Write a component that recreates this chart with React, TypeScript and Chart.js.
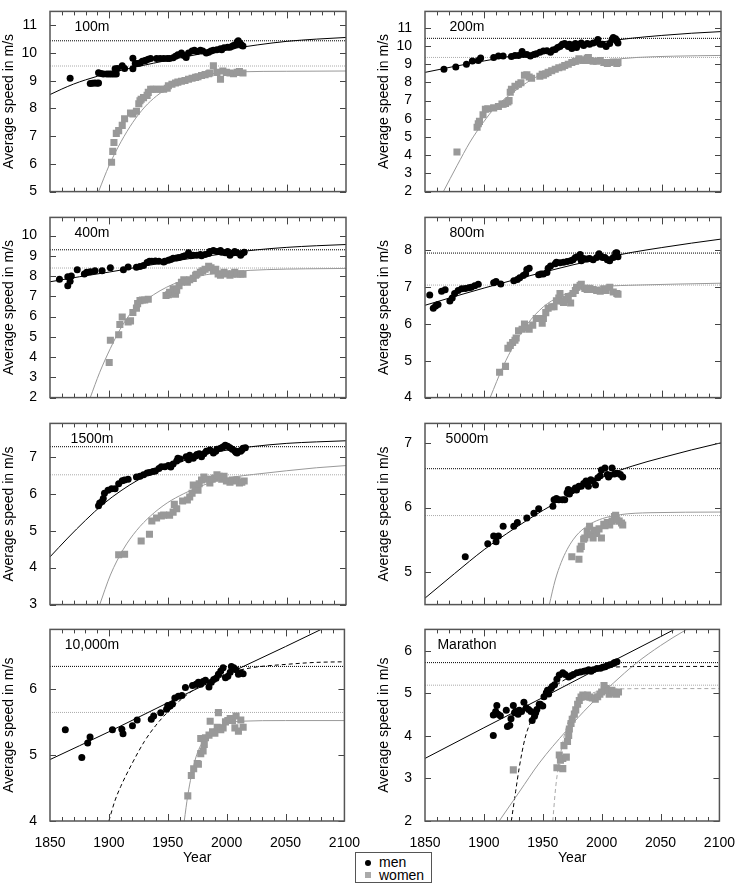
import React, { useEffect, useRef } from 'react';
import { Chart, registerables } from 'chart.js';
Chart.register(...registerables);

type P = [number, number];
const FONT = "'Liberation Sans', Arial, Helvetica, sans-serif";

// ---------- 100m ----------
const men100: P[] = [[1867,9.09],[1884,8.9],[1886,8.91],[1888,8.92],[1890,8.91],[1891,8.92],[1891,9.29],[1893,9.26],[1895,9.24],[1898,9.24],[1900,9.24],[1902,9.24],[1904,9.24],[1906,9.24],[1905,9.43],[1907,9.44],[1911,9.54],[1913,9.44],[1920,9.43],[1920,9.81],[1922,9.62],[1924,9.62],[1926,9.64],[1928,9.7],[1930,9.72],[1931,9.74],[1933,9.77],[1935,9.8],[1940,9.8],[1943,9.8],[1946,9.8],[1949,9.8],[1951,9.8],[1954,9.83],[1956,9.88],[1958,9.94],[1961,10.0],[1963,9.91],[1965,9.84],[1967,10.0],[1970,10.07],[1972,10.1],[1974,10.05],[1977,10.1],[1979,10.07],[1982,10.0],[1984,10.03],[1986,10.07],[1988,10.1],[1991,10.12],[1994,10.15],[1995,10.12],[1997,10.19],[2000,10.21],[2002,10.21],[2004,10.24],[2005,10.27],[2007,10.3],[2008,10.4],[2009,10.44],[2010,10.36],[2011,10.32],[2012,10.27],[2013,10.25]];
const women100: P[] = [[1902,6.06],[1903,6.45],[1904,6.77],[1906,7.1],[1908,7.2],[1911,7.39],[1913,7.63],[1918,7.83],[1920,7.8],[1923,7.9],[1925,8.17],[1926,8.28],[1927,8.33],[1929,8.39],[1932,8.47],[1933,8.58],[1935,8.69],[1937,8.69],[1940,8.69],[1943,8.69],[1946,8.69],[1949,8.73],[1950,8.82],[1953,8.87],[1956,8.92],[1958,8.95],[1961,8.98],[1964,9.01],[1967,9.05],[1970,9.09],[1973,9.12],[1975,9.14],[1978,9.19],[1981,9.22],[1984,9.25],[1985,9.28],[1988,9.54],[1991,9.3],[1994,9.05],[1996,9.35],[1999,9.3],[2002,9.28],[2005,9.25],[2008,9.3],[2010,9.33],[2013,9.28]];
const menFit100: P[] = [[1850,8.5],[1860,8.7],[1870,8.88],[1880,9.03],[1890,9.16],[1900,9.27],[1925,9.52],[1950,9.74],[1975,9.95],[2000,10.13],[2025,10.29],[2050,10.42],[2075,10.5],[2100,10.56]];
const womenFit100: P[] = [[1891,5.0],[1900,5.95],[1910,6.8],[1920,7.5],[1930,8.05],[1940,8.45],[1950,8.75],[1960,8.97],[1975,9.17],[1990,9.27],[2010,9.32],[2050,9.34],[2100,9.35]];
const records100: P = [10.44, 9.53];

// ---------- 200m ----------
const men200: P[] = [[1866,8.72],[1876,8.85],[1885,9.0],[1890,9.17],[1895,9.2],[1897,9.34],[1908,9.37],[1912,9.45],[1916,9.45],[1923,9.42],[1926,9.48],[1929,9.48],[1932,9.7],[1933,9.53],[1936,9.53],[1939,9.45],[1942,9.53],[1944,9.58],[1947,9.65],[1950,9.73],[1953,9.74],[1956,9.66],[1958,9.78],[1960,9.81],[1962,9.91],[1964,9.97],[1966,10.1],[1968,10.14],[1971,9.97],[1972,10.1],[1974,9.86],[1975,10.05],[1977,10.14],[1978,9.91],[1980,10.1],[1982,10.17],[1984,10.02],[1987,10.14],[1989,10.1],[1992,10.17],[1995,10.22],[1996,10.35],[1998,10.1],[2000,10.1],[2003,9.97],[2006,10.14],[2008,10.35],[2009,10.46],[2011,10.4],[2012,10.27],[2013,10.17]];
const women200: P[] = [[1877,4.18],[1894,5.54],[1895,5.73],[1896,5.86],[1899,6.22],[1901,6.52],[1903,6.55],[1908,6.6],[1912,6.68],[1915,6.81],[1916,6.8],[1918,6.84],[1920,6.92],[1921,7.0],[1922,7.46],[1923,7.62],[1926,7.79],[1929,7.9],[1931,7.98],[1934,8.39],[1936,8.42],[1938,8.3],[1940,8.23],[1947,8.34],[1949,8.44],[1950,8.39],[1952,8.47],[1954,8.55],[1957,8.64],[1960,8.72],[1963,8.8],[1966,8.85],[1968,8.93],[1971,9.0],[1974,9.09],[1977,9.16],[1980,9.29],[1982,9.24],[1985,9.2],[1987,9.32],[1988,9.37],[1989,9.2],[1992,9.16],[1995,9.16],[1998,9.2],[2001,9.09],[2004,9.04],[2006,9.09],[2009,9.12],[2012,9.04],[2013,9.09]];
const menFit200: P[] = [[1850,8.55],[1875,8.88],[1900,9.18],[1925,9.47],[1950,9.74],[1975,10.0],[2000,10.23],[2025,10.43],[2050,10.58],[2075,10.7],[2100,10.79]];
const womenFit200: P[] = [[1865.5,2.0],[1877,3.42],[1888,4.72],[1899,5.78],[1910,6.68],[1922,7.33],[1933,7.86],[1944,8.3],[1958,8.64],[1972,8.91],[1986,9.09],[2000,9.2],[2029,9.37],[2060,9.44],[2100,9.48]];
const records200: P = [10.42, 9.37];

// ---------- 400m ----------
const men400: P[] = [[1858,7.85],[1865,7.97],[1865,7.53],[1867,7.75],[1868,8.0],[1873,8.31],[1879,8.11],[1881,8.19],[1884,8.22],[1888,8.26],[1894,8.26],[1901,8.41],[1912,8.31],[1916,8.45],[1923,8.44],[1926,8.48],[1929,8.53],[1932,8.67],[1934,8.73],[1936,8.73],[1939,8.75],[1942,8.73],[1946,8.7],[1947,8.73],[1950,8.78],[1952,8.82],[1954,8.88],[1957,8.9],[1959,8.92],[1962,8.97],[1964,9.0],[1967,9.15],[1969,9.0],[1971,9.03],[1974,9.03],[1977,9.07],[1978,9.0],[1981,9.07],[1984,9.12],[1985,9.22],[1988,9.26],[1991,9.22],[1994,9.26],[1995,9.18],[1998,9.15],[2000,9.22],[2002,9.03],[2005,9.15],[2006,9.22],[2008,9.15],[2011,9.03],[2012,9.12],[2014,9.18]];
const women400: P[] = [[1900,3.73],[1901,4.83],[1908,5.1],[1909,5.61],[1911,5.98],[1916,5.73],[1918,5.79],[1920,6.2],[1923,6.42],[1924,6.64],[1926,6.79],[1928,6.82],[1930,6.82],[1933,6.86],[1948,7.04],[1950,7.08],[1951,7.2],[1954,7.38],[1956,7.11],[1957,7.3],[1959,7.53],[1961,7.7],[1963,7.82],[1966,7.7],[1968,7.82],[1971,7.89],[1973,8.04],[1974,8.09],[1977,8.19],[1979,8.26],[1981,8.34],[1984,8.48],[1986,8.41],[1988,8.26],[1990,8.34],[1992,8.11],[1994,8.04],[1997,8.19],[1999,8.11],[2002,8.04],[2004,8.11],[2006,8.19],[2008,8.09],[2011,8.11],[2013,8.09]];
const menFit400: P[] = [[1850,7.72],[1875,7.97],[1900,8.2],[1925,8.45],[1950,8.7],[1975,8.93],[2000,9.13],[2025,9.3],[2050,9.42],[2075,9.5],[2100,9.56]];
const womenFit400: P[] = [[1884,2.0],[1892,3.25],[1901,4.43],[1909,5.35],[1920,6.3],[1932,6.86],[1943,7.28],[1954,7.6],[1966,7.85],[1982,8.07],[2005,8.23],[2033,8.32],[2066,8.36],[2100,8.38]];
const records400: P = [9.30, 8.40];

// ---------- 800m ----------
const men800: P[] = [[1854,6.79],[1857,6.43],[1859,6.49],[1861,6.53],[1864,6.89],[1867,6.93],[1871,6.63],[1873,6.71],[1875,6.83],[1878,6.91],[1881,6.96],[1884,6.97],[1887,6.99],[1889,7.0],[1892,7.04],[1895,7.08],[1908,7.12],[1910,7.16],[1914,7.09],[1925,7.18],[1928,7.21],[1930,7.26],[1933,7.32],[1935,7.36],[1936,7.48],[1938,7.52],[1946,7.34],[1948,7.36],[1950,7.36],[1953,7.4],[1954,7.52],[1956,7.58],[1960,7.64],[1961,7.68],[1964,7.67],[1967,7.68],[1970,7.7],[1973,7.72],[1975,7.75],[1977,7.81],[1979,7.83],[1981,7.89],[1982,7.72],[1984,7.78],[1987,7.77],[1989,7.78],[1992,7.75],[1995,7.81],[1997,7.91],[1998,7.86],[2000,7.81],[2002,7.81],[2004,7.75],[2006,7.72],[2009,7.81],[2011,7.93],[2012,7.94],[2013,7.83]];
const women800: P[] = [[1913,4.69],[1918,4.85],[1920,5.34],[1922,5.42],[1924,5.5],[1926,5.56],[1927,5.62],[1929,5.82],[1932,5.86],[1934,6.0],[1936,5.9],[1938,5.86],[1941,5.97],[1944,6.15],[1946,6.15],[1949,6.02],[1950,6.15],[1952,6.31],[1954,6.43],[1957,6.47],[1959,6.47],[1961,6.63],[1963,6.71],[1964,6.83],[1966,6.63],[1967,6.59],[1969,6.67],[1971,6.75],[1973,6.57],[1975,6.83],[1977,6.91],[1978,7.0],[1981,7.05],[1982,7.08],[1985,6.97],[1987,6.94],[1989,6.97],[1992,6.94],[1995,6.91],[1998,6.89],[2001,6.96],[2003,6.91],[2006,7.0],[2009,6.87],[2012,6.83],[2013,6.81]];
const menFit800: P[] = [[1850,6.51],[1875,6.75],[1900,6.98],[1925,7.2],[1950,7.41],[1975,7.61],[2000,7.79],[2025,7.95],[2050,8.08],[2075,8.2],[2100,8.31]];
const womenFit800: P[] = [[1905,4.0],[1916,4.85],[1925,5.42],[1936,5.98],[1950,6.47],[1964,6.75],[1978,6.91],[2001,7.02],[2029,7.06],[2100,7.11]];
const records800: P = [7.93, 7.06];

// ---------- 1500m ----------
const men1500: P[] = [[1891,5.67],[1892,5.75],[1894,5.79],[1895,5.87],[1896,6.01],[1899,6.09],[1902,6.13],[1905,6.13],[1908,6.27],[1911,6.35],[1913,6.37],[1916,6.39],[1923,6.45],[1926,6.47],[1929,6.51],[1932,6.56],[1934,6.57],[1937,6.6],[1939,6.61],[1942,6.68],[1944,6.73],[1947,6.73],[1950,6.76],[1952,6.72],[1954,6.8],[1957,6.88],[1958,6.96],[1960,6.94],[1965,7.0],[1967,6.92],[1968,7.04],[1971,6.96],[1973,7.02],[1974,7.06],[1976,7.08],[1978,7.0],[1980,7.08],[1982,7.15],[1985,7.18],[1988,7.1],[1990,7.15],[1991,7.2],[1994,7.23],[1996,7.26],[1998,7.31],[2000,7.28],[2002,7.24],[2004,7.2],[2006,7.16],[2007,7.12],[2008,7.1],[2011,7.15],[2012,7.18],[2013,7.23],[2015,7.24]];
const women1500: P[] = [[1908,4.35],[1913,4.36],[1927,4.72],[1934,4.9],[1936,5.26],[1940,5.34],[1944,5.4],[1946,5.42],[1951,5.42],[1954,5.5],[1955,5.71],[1957,5.59],[1962,5.8],[1966,5.83],[1968,5.91],[1970,6.01],[1971,6.23],[1973,6.15],[1975,6.09],[1976,6.27],[1978,6.37],[1980,6.45],[1982,6.39],[1985,6.29],[1987,6.39],[1989,6.42],[1991,6.51],[1993,6.47],[1995,6.39],[1997,6.47],[1999,6.34],[2002,6.31],[2004,6.37],[2006,6.34],[2008,6.37],[2010,6.29],[2012,6.31],[2014,6.34]];
const menFit1500: P[] = [[1850,4.29],[1865,4.8],[1880,5.28],[1895,5.72],[1910,6.08],[1925,6.38],[1940,6.6],[1955,6.8],[1970,6.96],[1985,7.09],[2000,7.18],[2020,7.27],[2050,7.36],[2075,7.4],[2100,7.43]];
const womenFit1500: P[] = [[1892,3.0],[1901,3.8],[1912,4.5],[1923,5.0],[1935,5.4],[1949,5.75],[1963,6.0],[1977,6.2],[1991,6.35],[2005,6.45],[2022,6.52],[2050,6.62],[2075,6.7],[2100,6.76]];
const records1500: P = [7.27, 6.51];

// ---------- 5000m ----------
const men5000: P[] = [[1884,5.24],[1903,5.44],[1908,5.56],[1910,5.47],[1912,5.56],[1916,5.71],[1925,5.71],[1928,5.77],[1936,5.84],[1942,5.91],[1946,5.98],[1958,6.02],[1959,6.12],[1961,6.14],[1963,6.12],[1966,6.12],[1968,6.12],[1970,6.23],[1971,6.28],[1972,6.21],[1974,6.26],[1977,6.3],[1978,6.27],[1980,6.33],[1982,6.33],[1984,6.37],[1986,6.41],[1988,6.33],[1990,6.43],[1992,6.41],[1994,6.35],[1996,6.46],[1998,6.49],[1999,6.58],[2002,6.61],[2004,6.51],[2005,6.47],[2006,6.5],[2008,6.61],[2010,6.52],[2012,6.53],[2015,6.51],[2017,6.47]];
const women5000: P[] = [[1974,5.24],[1980,5.2],[1981,5.36],[1982,5.4],[1984,5.51],[1985,5.53],[1987,5.63],[1989,5.71],[1990,5.58],[1992,5.53],[1993,5.65],[1995,5.6],[1997,5.67],[1999,5.53],[2001,5.74],[2002,5.72],[2004,5.77],[2006,5.73],[2008,5.79],[2010,5.86],[2011,5.88],[2012,5.81],[2014,5.79],[2016,5.76],[2017,5.73]];
const menFit5000: P[] = [[1850,4.6],[1875,4.98],[1900,5.35],[1925,5.67],[1950,5.96],[1975,6.22],[2000,6.47],[2025,6.64],[2050,6.77],[2075,6.89],[2100,7.0]];
const womenFit5000: P[] = [[1955,4.5],[1960,4.88],[1965,5.15],[1970,5.35],[1975,5.5],[1980,5.61],[1990,5.75],[2000,5.83],[2015,5.89],[2040,5.92],[2100,5.93]];
const records5000: P = [6.60, 5.876];

// ---------- 10,000m ----------
const men10000: P[] = [[1863,5.38],[1877,4.96],[1882,5.18],[1884,5.27],[1903,5.38],[1911,5.39],[1912,5.32],[1920,5.44],[1924,5.53],[1936,5.54],[1938,5.59],[1944,5.64],[1949,5.69],[1950,5.75],[1952,5.74],[1954,5.77],[1956,5.86],[1959,5.89],[1962,5.9],[1965,6.02],[1971,6.05],[1974,6.07],[1976,6.1],[1978,6.07],[1980,6.11],[1982,6.13],[1985,6.03],[1987,6.1],[1989,6.14],[1991,6.16],[1993,6.22],[1995,6.27],[1997,6.32],[1999,6.17],[2001,6.19],[2003,6.25],[2004,6.34],[2006,6.32],[2008,6.29],[2010,6.22],[2012,6.24],[2014,6.23]];
const women10000: P[] = [[1967,4.38],[1970,4.69],[1972,4.79],[1975,4.87],[1976,4.86],[1978,5.02],[1980,5.06],[1981,5.16],[1978,5.25],[1982,5.26],[1985,5.3],[1986,5.51],[1988,5.35],[1990,5.33],[1992,5.42],[1993,5.64],[1995,5.38],[1997,5.41],[1999,5.5],[2001,5.52],[2003,5.55],[2005,5.52],[2007,5.41],[2008,5.59],[2010,5.36],[2012,5.53],[2014,5.42]];
const menFit10000: P[] = [[1850,4.93],[1900,5.35],[1950,5.79],[2000,6.22],[2050,6.64],[2100,7.07]];
const menDash10000: P[] = [[1900,4.0],[1905,4.3],[1910,4.52],[1920,4.88],[1930,5.2],[1940,5.45],[1950,5.65],[1960,5.82],[1970,5.96],[1980,6.07],[1990,6.16],[2000,6.23],[2010,6.28],[2025,6.33],[2050,6.37],[2075,6.4],[2100,6.41]];
const womenFit10000: P[] = [[1964,4.0],[1967,4.39],[1970,4.68],[1974,4.97],[1980,5.21],[1988,5.38],[1999,5.47],[2011,5.51],[2050,5.52],[2100,5.52]];
const records10000: P = [6.34, 5.643];

// ---------- Marathon ----------
const menMar: P[] = [[1908,4.01],[1908,4.49],[1910,4.57],[1911,4.71],[1912,4.51],[1914,4.47],[1919,4.6],[1920,4.22],[1922,4.25],[1923,4.4],[1925,4.71],[1926,4.54],[1927,4.57],[1929,4.51],[1930,4.6],[1932,4.57],[1934,4.79],[1936,4.66],[1938,4.62],[1940,4.57],[1941,4.36],[1943,4.46],[1944,4.54],[1945,4.62],[1947,4.74],[1948,4.74],[1950,4.7],[1951,4.92],[1953,5.01],[1954,5.07],[1955,4.98],[1957,5.11],[1958,5.16],[1960,5.2],[1962,5.33],[1964,5.43],[1967,5.48],[1969,5.44],[1972,5.38],[1974,5.41],[1976,5.44],[1979,5.48],[1982,5.5],[1985,5.52],[1987,5.53],[1989,5.55],[1991,5.52],[1993,5.55],[1996,5.58],[1999,5.59],[2001,5.61],[2003,5.62],[2005,5.65],[2007,5.67],[2010,5.7],[2011,5.72],[2013,5.74]];
const womenMar: P[] = [[1925,3.2],[1962,3.25],[1964,3.55],[1965,3.43],[1967,3.47],[1967,3.23],[1968,3.77],[1970,3.5],[1971,3.87],[1972,4.01],[1972.6,4.16],[1974,4.29],[1975,4.39],[1976.8,4.51],[1978,4.61],[1979.6,4.74],[1981,4.83],[1982.5,4.91],[1984,4.96],[1986,4.92],[1988,4.96],[1990,4.91],[1992,4.89],[1994.6,4.86],[1996.6,4.92],[1998.5,4.98],[2000,5.03],[2002,5.18],[2003.6,5.11],[2005,5.06],[2006.4,4.98],[2008.7,5.07],[2010.7,5.01],[2012.6,4.98],[2014.3,5.03]];
const menFitMar: P[] = [[1850,3.47],[1900,4.19],[1950,4.9],[2000,5.62],[2050,6.33],[2100,7.05]];
const menDashMar: P[] = [[1923.3,2.0],[1927,2.7],[1930,3.25],[1935,3.95],[1940,4.35],[1945,4.65],[1950,4.87],[1960,5.15],[1970,5.34],[1980,5.46],[1990,5.54],[2000,5.59],[2015,5.62],[2050,5.63],[2100,5.63]];
const womenFitMar: P[] = [[1913,2.0],[1930,2.68],[1947,3.36],[1970,4.12],[1990,4.72],[2010,5.24],[2029,5.7],[2050,6.12],[2071,6.48],[2100,6.9]];
const womenDashMar: P[] = [[1958.5,2.0],[1961,2.8],[1964,3.4],[1967,3.85],[1970,4.2],[1975,4.55],[1980,4.78],[1990,4.98],[2000,5.06],[2012,5.1],[2050,5.11],[2100,5.11]];
const recordsMar: P = [5.72, 5.19];

const yearTicks = [1850, 1900, 1950, 2000, 2050, 2100];

// ---------- layout ----------
const COL_X = [50, 425];
const ROWS = [{ top: 1, h: 201 }, { top: 207, h: 201 }, { top: 413, h: 202 }, { top: 619, h: 202 }];
const PLOT_W = 296;
const YAX_W = 50;
const PAD_T = 3;
const PAD_R = 20;
const XAX_H = 50;

const MEN = '#000000';
const WOMEN = '#999999';
const WOMEN_LINE = '#999999';

interface PanelDef {
  label: string; col: number; row: number; yMin: number; yMax: number;
  men: P[]; women: P[]; menFit: P[]; womenFit: P[];
  menDash?: P[]; womenDash?: P[]; rec: P;
}

const panels: PanelDef[] = [
  { label: '100m', col: 0, row: 0, yMin: 5, yMax: 11.5, men: men100, women: women100, menFit: menFit100, womenFit: womenFit100, rec: records100 },
  { label: '200m', col: 1, row: 0, yMin: 2, yMax: 11.9, men: men200, women: women200, menFit: menFit200, womenFit: womenFit200, rec: records200 },
  { label: '400m', col: 0, row: 1, yMin: 2, yMax: 10.9, men: men400, women: women400, menFit: menFit400, womenFit: womenFit400, rec: records400 },
  { label: '800m', col: 1, row: 1, yMin: 4, yMax: 8.9, men: men800, women: women800, menFit: menFit800, womenFit: womenFit800, rec: records800 },
  { label: '1500m', col: 0, row: 2, yMin: 3, yMax: 7.9, men: men1500, women: women1500, menFit: menFit1500, womenFit: womenFit1500, rec: records1500 },
  { label: '5000m', col: 1, row: 2, yMin: 4.5, yMax: 7.3, men: men5000, women: women5000, menFit: menFit5000, womenFit: womenFit5000, rec: records5000 },
  { label: '10,000m', col: 0, row: 3, yMin: 4, yMax: 6.9, men: men10000, women: women10000, menFit: menFit10000, womenFit: womenFit10000, menDash: menDash10000, rec: records10000 },
  { label: 'Marathon', col: 1, row: 3, yMin: 2, yMax: 6.5, men: menMar, women: womenMar, menFit: menFitMar, womenFit: womenFitMar, menDash: menDashMar, womenDash: womenDashMar, rec: recordsMar },
];

const framePlugin = {
  id: 'frame',
  afterDatasetsDraw(chart: any, _args: any, opts: any) {
    const { ctx, chartArea: a, scales } = chart;
    const x = scales.x, y = scales.y;
    ctx.save();
    ctx.strokeStyle = '#444';
    ctx.lineWidth = 1;
    ctx.beginPath();
    for (let v = 1860; v < 2100; v += 10) {
      const px = Math.round(x.getPixelForValue(v)) + 0.5;
      const len = v % 50 === 0 ? 7 : 4;
      ctx.moveTo(px, a.bottom); ctx.lineTo(px, a.bottom - len);
      ctx.moveTo(px, a.top); ctx.lineTo(px, a.top + len);
    }
    for (let v = Math.ceil(y.min); v <= Math.floor(y.max); v++) {
      const py = Math.round(y.getPixelForValue(v)) + 0.5;
      ctx.moveTo(a.left, py); ctx.lineTo(a.left + 6, py);
      ctx.moveTo(a.right, py); ctx.lineTo(a.right - 6, py);
    }
    ctx.stroke();
    ctx.lineWidth = 1.5;
    ctx.strokeStyle = '#555';
    ctx.strokeRect(a.left, a.top, a.right - a.left, a.bottom - a.top);
    ctx.fillStyle = '#000';
    ctx.font = `14px ${FONT}`;
    ctx.textAlign = 'center';
    ctx.textBaseline = 'middle';
    ctx.fillText(opts.label, a.left + 42, a.top + 16);
    ctx.restore();
  },
};

const toXY = (arr: P[]) => arr.map(([x, y]) => ({ x, y }));

function lineDs(arr: P[], color: string, dash: number[], order: number) {
  return {
    data: toXY(arr), showLine: true, pointRadius: 0, borderColor: color, backgroundColor: color,
    borderWidth: 1, borderDash: dash, cubicInterpolationMode: 'monotone', fill: false, order,
  };
}

function Panel({ def }: { def: PanelDef }) {
  const ref = useRef<HTMLCanvasElement>(null);
  const bottom = def.row === 3;
  const row = ROWS[def.row];
  const W = YAX_W + PLOT_W + PAD_R;
  const H = PAD_T + row.h + (bottom ? XAX_H : 3);
  const left = COL_X[def.col] - YAX_W;
  const top = row.top - PAD_T;

  useEffect(() => {
    const datasets: any[] = [
      { data: toXY(def.men), pointStyle: 'circle', pointRadius: 3.5, pointBorderWidth: 0, pointBackgroundColor: MEN, backgroundColor: MEN, order: 0 },
      { data: toXY(def.women), pointStyle: 'rect', pointRadius: 5, pointBorderWidth: 0, pointBackgroundColor: WOMEN, backgroundColor: WOMEN, order: 0 },
      lineDs(def.menFit, MEN, [], 1),
      lineDs(def.womenFit, WOMEN_LINE, [], 1),
      lineDs([[1850, def.rec[0]], [2100, def.rec[0]]], MEN, [1, 1], 2),
      lineDs([[1850, def.rec[1]], [2100, def.rec[1]]], '#aaaaaa', [1, 1], 2),
    ];
    if (def.menDash) datasets.push(lineDs(def.menDash, MEN, [4, 3], 1));
    if (def.womenDash) datasets.push(lineDs(def.womenDash, '#aaaaaa', [4, 3], 1));

    const chart = new Chart(ref.current as HTMLCanvasElement, {
      type: 'scatter',
      data: { datasets },
      plugins: [framePlugin],
      options: {
        animation: false,
        responsive: false,
        devicePixelRatio: 1,
        layout: { padding: { left: 0, top: PAD_T, right: PAD_R, bottom: bottom ? 0 : 3 }, autoPadding: false },
        plugins: { legend: { display: false }, tooltip: { enabled: false }, frame: { label: def.label } } as any,
        scales: {
          x: {
            type: 'linear', min: 1850, max: 2100, display: bottom,
            grid: { display: false }, border: { display: false },
            afterBuildTicks: (s: any) => { s.ticks = yearTicks.map((v) => ({ value: v })); },
            ticks: { autoSkip: false, maxRotation: 0, padding: 6, color: '#000', font: { family: FONT, size: 14 }, callback: (v: any) => String(v) },
            title: { display: bottom, text: 'Year', color: '#000', font: { family: FONT, size: 14 }, padding: { top: 4, bottom: 4 } },
            afterFit: (s: any) => { s.height = bottom ? XAX_H : 0; },
          },
          y: {
            type: 'linear', min: def.yMin, max: def.yMax,
            grid: { display: false }, border: { display: false },
            ticks: { stepSize: 1, includeBounds: false, autoSkip: false, padding: 5, color: '#000', font: { family: FONT, size: 14 }, callback: (v: any) => String(v) },
            title: { display: true, text: 'Average speed in m/s', color: '#000', font: { family: FONT, size: 14 }, padding: { top: 1, bottom: 0 } },
            afterFit: (s: any) => { s.width = YAX_W; },
          },
        },
      } as any,
    });
    return () => chart.destroy();
  }, []);

  return (
    <canvas
      ref={ref}
      width={W}
      height={H}
      style={{ position: 'absolute', left, top, width: W, height: H }}
    />
  );
}

export default function App() {
  const text: React.CSSProperties = { position: 'absolute', left: 23, fontFamily: FONT, fontSize: 14, lineHeight: '14px', color: '#000', whiteSpace: 'nowrap' };
  return (
    <div style={{ position: 'absolute', left: 0, top: 0, width: 737, height: 884, background: '#fff', overflow: 'hidden' }}>
      {panels.map((p) => <Panel key={p.label} def={p} />)}
      <div style={{ position: 'absolute', left: 355, top: 852, width: 75, height: 29, border: '1px solid #555', background: '#fff' }}>
        <div style={{ position: 'absolute', left: 9, top: 7, width: 6, height: 6, borderRadius: 3, background: MEN }} />
        <div style={{ ...text, top: 2 }}>men</div>
        <div style={{ position: 'absolute', left: 9, top: 19, width: 6, height: 6, background: '#aaaaaa' }} />
        <div style={{ ...text, top: 15 }}>women</div>
      </div>
    </div>
  );
}
